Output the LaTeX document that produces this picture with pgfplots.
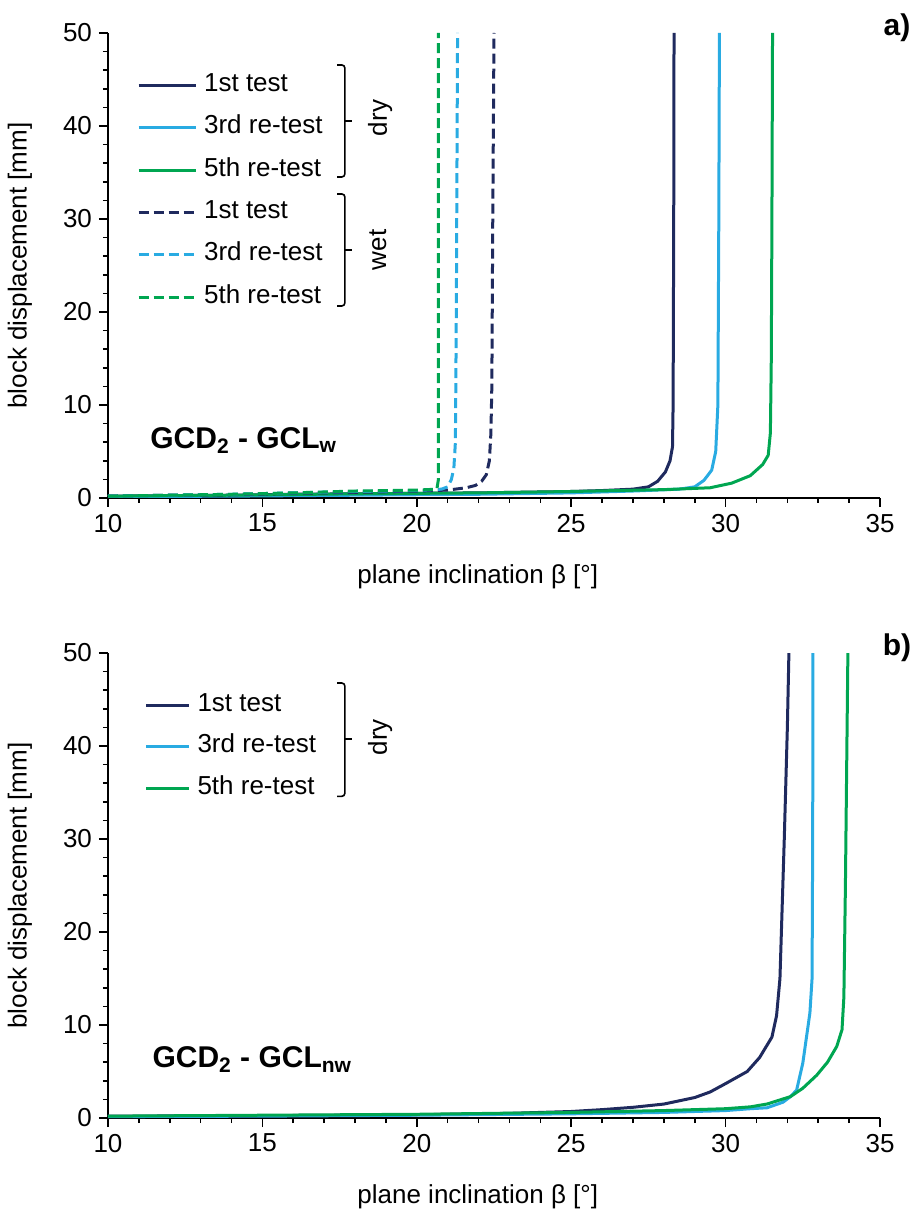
\documentclass[border=0pt]{standalone}
\usepackage{fontspec}
\setmainfont{Liberation Sans}
\usepackage{pgfplots}
\pgfplotsset{compat=1.18}

\definecolor{navy}{RGB}{31,42,94}
\definecolor{lblue}{RGB}{41,171,226}
\definecolor{dgreen}{RGB}{0,166,81}
\newcommand{\fs}{\fontsize{13}{15.5}\selectfont}

\pgfplotsset{
  panel/.style={
    scale only axis, width=386pt, height=232.5pt,
    xmin=10, xmax=35, ymin=0, ymax=50,
    axis x line*=bottom, axis y line*=left,
    axis line style={line width=1pt,-},
    xtick={10,15,...,35}, ytick={0,10,...,50},
    minor x tick num=4, minor y tick num=4,
    tick align=outside, major tick length=4.5pt, minor tick length=2.5pt,
    tick style={line width=0.8pt, black},
    /pgf/number format/assume math mode=true,
    tick label style={font=\fs},
    label style={font=\fs},
    xlabel={plane inclination β [°]},
    ylabel={block displacement [mm]},
    xlabel style={at={(axis description cs:0.479,-0.17)}, anchor=center},
    ylabel style={at={(axis description cs:-0.114,0.5)}, anchor=center},
    legend cell align=left,
    legend style={draw=none, fill=none, inner sep=0pt, font=\fs,
      column sep=3.5pt, row sep=9.2pt,
      nodes={inner sep=0pt, text height=9pt, text depth=3pt}},
  },
  solid line/.style={line width=1.5pt},
  dash line/.style={line width=1.5pt, dash pattern=on 5pt off 2.5pt},
}

\begin{document}
\begin{tikzpicture}
\useasboundingbox (-54pt,-355.5pt) rectangle (406pt,249pt);

% ---------- a) ----------
\begin{axis}[panel,
    legend style={at={(axis cs:10.93,45.72)}, anchor=north west},
    legend image code/.code={\draw[#1] (0pt,0pt) -- (28.5pt,0pt);}]

\addplot[navy, solid line] coordinates {
  (10,0.2) (12,0.25) (14,0.3) (16,0.4) (18,0.45) (20,0.5) (22,0.55) (24,0.65)
  (25,0.7) (26,0.8) (27,0.95) (27.5,1.2) (27.8,1.8) (28.05,2.8) (28.2,4.0)
  (28.28,5.5) (28.3,10) (28.32,30) (28.33,50)};
\addlegendentry{1st test}

\addplot[lblue, solid line] coordinates {
  (10,0.15) (14,0.2) (18,0.3) (22,0.4) (25,0.55) (27,0.75) (28.5,0.95)
  (29,1.2) (29.3,1.9) (29.55,3.0) (29.68,5) (29.75,10) (29.78,30) (29.8,50)};
\addlegendentry{3rd re-test}

\addplot[dgreen, solid line] coordinates {
  (10,0.2) (14,0.3) (18,0.45) (22,0.55) (25,0.7) (28,0.9) (29.5,1.1)
  (30.2,1.6) (30.8,2.4) (31.2,3.6) (31.38,4.6) (31.45,7) (31.48,15)
  (31.5,30) (31.52,50)};
\addlegendentry{5th re-test}

\addplot[navy, dash line] coordinates {
  (10,0.2) (12,0.3) (14,0.35) (16,0.5) (18,0.6) (20,0.75) (21,0.85)
  (21.6,1.1) (21.9,1.35) (22.1,1.8) (22.25,2.5) (22.35,4) (22.4,7)
  (22.43,12) (22.46,30) (22.5,50)};
\addlegendentry{1st test}

\addplot[lblue, dash line] coordinates {
  (10,0.2) (12,0.3) (14,0.4) (16,0.55) (18,0.7) (20,0.8) (20.8,0.95)
  (21.0,1.2) (21.12,2) (21.2,3.2) (21.25,6) (21.28,20) (21.32,50)};
\addlegendentry{3rd re-test}

\addplot[dgreen, dash line] coordinates {
  (10,0.2) (12,0.3) (14,0.4) (16,0.55) (18,0.75) (20,0.85) (20.65,0.95)
  (20.7,2) (20.7,50)};
\addlegendentry{5th re-test}

% brackets
\draw[line width=0.8pt, rounded corners=1.5pt]
  (axis cs:17.42,46.56) -- (axis cs:17.67,46.56) -- (axis cs:17.67,34.52) -- (axis cs:17.42,34.52);
\draw[line width=0.8pt] (axis cs:17.67,40.54) -- (axis cs:17.90,40.54);
\draw[line width=0.8pt, rounded corners=1.5pt]
  (axis cs:17.42,32.69) -- (axis cs:17.67,32.69) -- (axis cs:17.67,20.65) -- (axis cs:17.42,20.65);
\draw[line width=0.8pt] (axis cs:17.67,26.67) -- (axis cs:17.90,26.67);
\node[rotate=90, font=\fs] at (axis cs:18.81,40.86) {dry};
\node[rotate=90, font=\fs] at (axis cs:18.74,26.67) {wet};

\node[anchor=west, inner sep=0pt, font=\bfseries\fontsize{15}{17}\selectfont]
  at (axis cs:11.36,6.2) {GCD\textsubscript{2} - GCL\textsubscript{w}};
\end{axis}
\node[font=\bfseries\fontsize{15}{18}\selectfont] at (394.5pt,235pt) {a)};

% ---------- b) ----------
\begin{axis}[panel, at={(0pt,-310pt)},
    legend style={at={(axis cs:11.17,45.72)}, anchor=north west,
      column sep=3.5pt, row sep=8.75pt},
    legend image code/.code={\draw[#1] (0pt,0pt) -- (21.5pt,0pt);}]

\addplot[navy, solid line] coordinates {
  (10,0.2) (15,0.25) (20,0.35) (23,0.5) (25,0.7) (26,0.9) (27,1.15) (28,1.5)
  (29,2.2) (29.5,2.8) (30,3.7) (30.7,5.0) (31.1,6.5) (31.5,8.7) (31.65,11)
  (31.76,15) (31.9,30) (32.0,42) (32.05,50)};
\addlegendentry{1st test}

\addplot[lblue, solid line] coordinates {
  (10,0.15) (15,0.2) (20,0.3) (25,0.45) (28,0.6) (30,0.8) (30.8,1.0)
  (31.34,1.1) (31.86,1.7) (32.1,2.3) (32.3,3.0) (32.5,5.9) (32.73,11.3)
  (32.8,15) (32.82,30) (32.83,50)};
\addlegendentry{3rd re-test}

\addplot[dgreen, solid line] coordinates {
  (10,0.2) (15,0.3) (20,0.4) (25,0.6) (28,0.8) (30,1.0) (30.8,1.2)
  (31.34,1.5) (32.1,2.3) (32.5,3.2) (32.95,4.6) (33.3,6.0) (33.6,7.7)
  (33.77,9.5) (33.83,13) (33.88,25) (33.96,50)};
\addlegendentry{5th re-test}

\draw[line width=0.8pt, rounded corners=1.5pt]
  (axis cs:17.42,46.77) -- (axis cs:17.67,46.77) -- (axis cs:17.67,34.59) -- (axis cs:17.42,34.59);
\draw[line width=0.8pt] (axis cs:17.67,40.73) -- (axis cs:17.90,40.73);
\node[rotate=90, font=\fs] at (axis cs:18.81,40.95) {dry};

\node[anchor=west, inner sep=0pt, font=\bfseries\fontsize{15}{17}\selectfont]
  at (axis cs:11.43,6.25) {GCD\textsubscript{2} - GCL\textsubscript{nw}};
\end{axis}
\node[font=\bfseries\fontsize{15}{18}\selectfont] at (394.5pt,-75pt) {b)};
\end{tikzpicture}
\end{document}
